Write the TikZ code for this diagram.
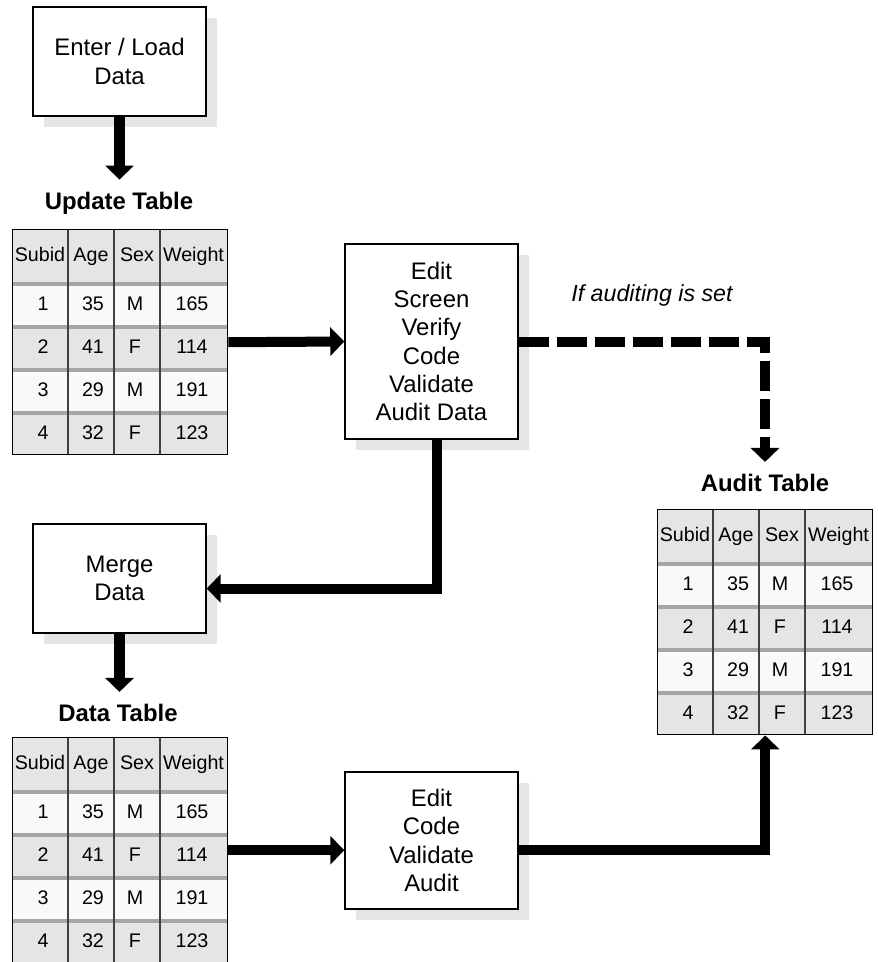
\documentclass[tikz,border=0pt]{standalone}
\usepackage{fontspec}
\setmainfont{Liberation Sans}
\usetikzlibrary{arrows.meta,positioning,calc,shadows}

\tikzset{
  procbox/.style={draw, line width=1pt, fill=white, minimum width=4.325cm, align=center, inner sep=0pt,
    font=\fontsize{17}{20}\selectfont,
    drop shadow={shadow xshift=0.275cm, shadow yshift=-0.275cm, fill=gray!20, opacity=1}},
  tabtitle/.style={font=\fontsize{17}{20}\selectfont\bfseries, inner sep=0.3cm},
  tabframe/.style={draw, line width=1pt, minimum width=5.375cm, minimum height=5.625cm, inner sep=0pt, anchor=north west},
  cell/.style={font=\fontsize{14}{16}\selectfont, inner sep=0pt, text height=0.36cm, text depth=0.1cm},
  flow/.style={line width=0.25cm, -{Triangle[length=0.35cm,width=0.7cm]}},
  auditflow/.style={flow, dash pattern=on 0.75cm off 0.2cm},
}

\begin{document}
\begin{tikzpicture}[x=0.025cm, y=-0.025cm]
\useasboundingbox (0,0) rectangle (877,962);

% Process boxes
\node[procbox, minimum height=2.725cm] (enter) at (119.5,61.5) {Enter / Load\\Data};
\node[procbox, minimum height=4.875cm] (edit) at (431.5,341.5) {Edit\\Screen\\Verify\\Code\\Validate\\Audit Data};
\node[procbox, minimum height=2.725cm] (merge) at (119.5,578.5) {Merge\\Data};
\node[procbox, minimum height=3.425cm] (editb) at (431.5,840.5) {Edit\\Code\\Validate\\Audit};

% Tables - same rows in each
\foreach \tx/\ty/\tn in {12/229/updtab, 12/737/datatab, 657/509/audittab} {
  \fill[gray!20] (\tx,\ty) rectangle (\tx+215,\ty+53);
  \node[cell] (\tn-subid) at (\tx+28,\ty+27) {Subid};
  \node[cell] (\tn-age) at (\tx+79,\ty+27) {Age};
  \node[cell] (\tn-sex) at (\tx+125,\ty+27) {Sex};
  \node[cell] (\tn-wt) at (\tx+181.5,\ty+27) {Weight};
  \foreach \r/\sid/\age/\sex/\wt/\col in {0/1/35/M/165/gray!5, 1/2/41/F/114/gray!20, 2/3/29/M/191/gray!5, 3/4/32/F/123/gray!20} {
    \fill[\col] (\tx,\ty+53+\r*43) rectangle (\tx+215,\ty+96+\r*43);
    \draw[gray!70, line width=0.1cm] (\tx,\ty+54.5+\r*43) -- (\tx+215,\ty+54.5+\r*43);
    \node[cell] (\tn-\sid-a) at (\tx+31,\ty+76+\r*43) {\sid};
    \node[cell] (\tn-\sid-b) at (\tx+81,\ty+76+\r*43) {\age};
    \node[cell] (\tn-\sid-c) at (\tx+123,\ty+76+\r*43) {\sex};
    \node[cell] (\tn-\sid-d) at (\tx+180,\ty+76+\r*43) {\wt};
  }
  \foreach \cx in {56,102,148}
    \draw[black!75, line width=1pt] (\tx+\cx,\ty) -- (\tx+\cx,\ty+225);
  \node[tabframe] (\tn) at (\tx,\ty) {};
}

% Table titles
\node[tabtitle] (updtitle) at (119,203) {Update Table};
\node[tabtitle] (datatitle) at (118,713) {Data Table};
\node[tabtitle] (audittitle) at (765,483) {Audit Table};

\node[font=\fontsize{16.5}{20}\selectfont\itshape] (note) at (652,295) {If auditing is set};

% Flow
\draw[flow] (enter.south) -- (enter.south |- updtitle.north);
\draw[flow] (updtab.east) -- (edit.west);
\draw[auditflow] (edit.east) -| (audittitle.north);
\draw[flow] ([xshift=0.125cm]edit.south) |- ([yshift=-0.25cm]merge.east);
\draw[flow] (merge.south) -- (merge.south |- datatitle.north);
\draw[flow] (datatab.east) -- (datatab.east -| editb.west);
\draw[flow] (datatab.east -| editb.east) -| (audittab.south);
\end{tikzpicture}
\end{document}
